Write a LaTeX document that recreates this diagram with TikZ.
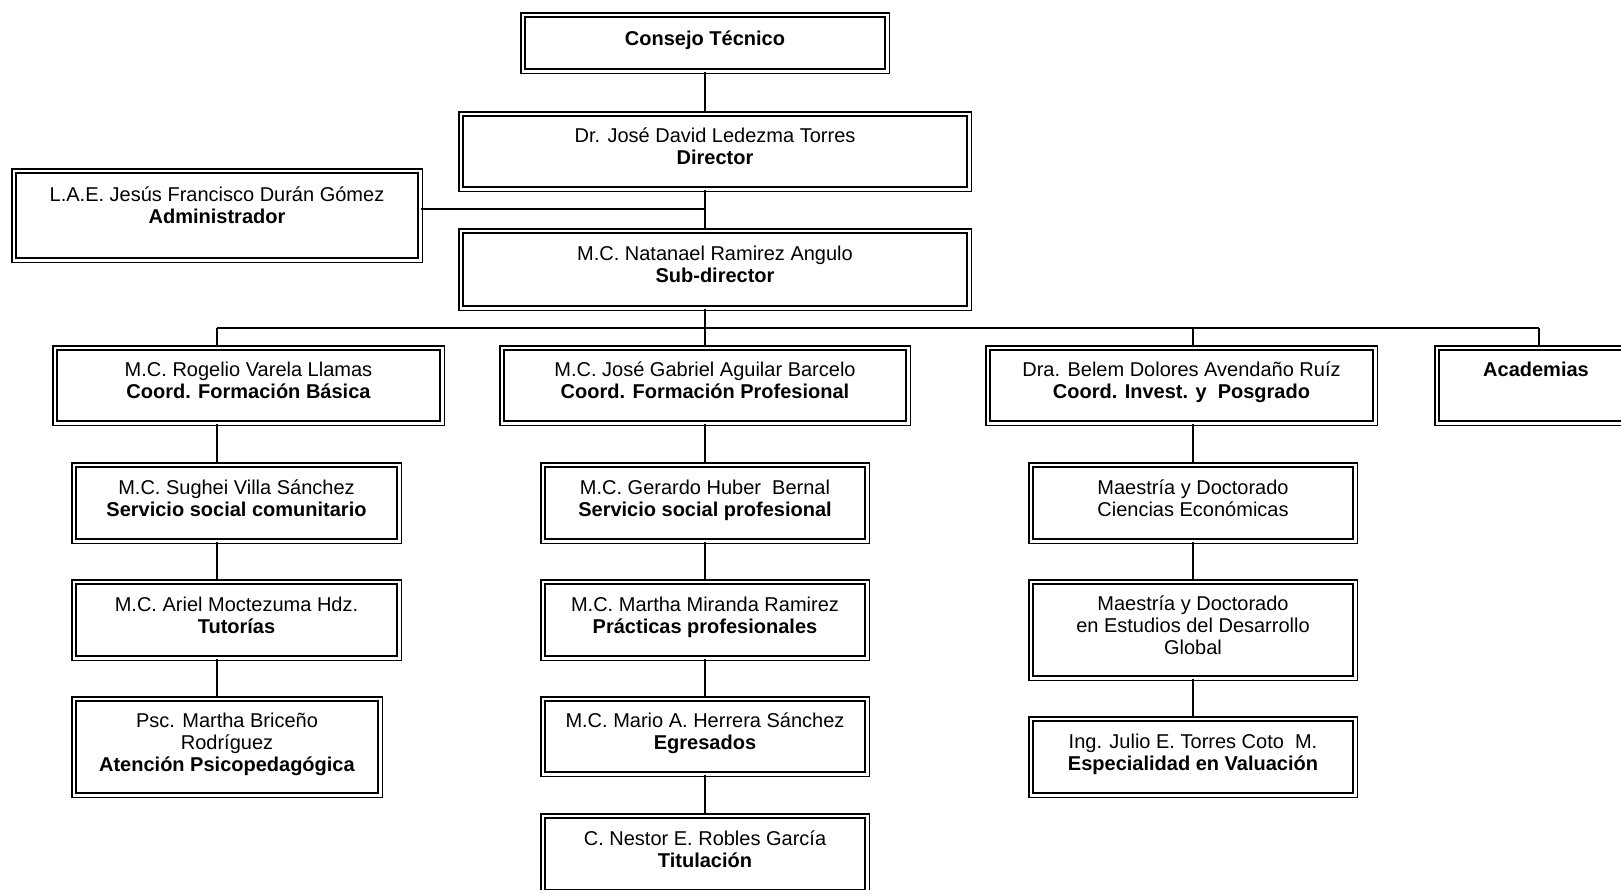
\documentclass[tikz,border=0pt]{standalone}
\usepackage{fontspec}
\setmainfont{Liberation Sans}
\tikzset{
  box/.style={draw, double, line width=0.75pt, double distance=1.3pt, align=center,
    inner sep=0pt, text depth=5pt, font=\fontsize{10}{11}\selectfont},
  boxsize/.style 2 args={minimum width=#1*0.5pt-2.8pt, minimum height=#2*0.5pt-2.8pt},
}
\begin{document}
\begin{tikzpicture}[x=0.5pt, y=-0.5pt, node distance=58.5pt, line width=0.9pt] % 1 unit = 1 px
  \useasboundingbox (0,0) rectangle (1621,889);
  \node[box, boxsize={370}{62}] (CT) at (705,43) {\textbf{Consejo Técnico}};
  \node[box, boxsize={514}{81}] (DIR) at (715,151.5) {Dr. José David Ledezma Torres\\\textbf{Director}};
  \node[box, boxsize={412}{95}, text depth=10pt] (ADM) at (217,215.5) {L.A.E. Jesús Francisco Durán Gómez\\\textbf{Administrador}};
  \node[box, boxsize={514}{83}] (SUB) at (715,269.5) {M.C. Natanael Ramirez Angulo\\\textbf{Sub-director}};

  \node[box, boxsize={393}{81}] (CFB) at (248.5,385.5) {M.C. Rogelio Varela Llamas\\\textbf{Coord. Formación Básica}};
  \node[box, boxsize={412}{81}] (CFP) at (705,385.5) {M.C. José Gabriel Aguilar Barcelo\\\textbf{Coord. Formación Profesional}};
  \node[box, boxsize={393}{81}] (CIP) at (1181.5,385.5) {Dra. Belem Dolores Avendaño Ruíz\\\textbf{Coord. Invest. y~ Posgrado}};
  \node[box, boxsize={204}{81}, text depth=16.5pt] (AC) at (1536,385.5) {\textbf{Academias}};

  \node[box, boxsize={331}{82}] (SSC) at (236.5,503) {M.C. Sughei Villa Sánchez\\\textbf{Servicio social comunitario}};
  \node[box, boxsize={331}{82}, below of=SSC] (TUT) {M.C. Ariel Moctezuma Hdz.\\\textbf{Tutorías}};
  \node[box, boxsize={312}{102}] (APS) at (227,747) {Psc. Martha Briceño\\Rodríguez\\\textbf{Atención Psicopedagógica}};

  \node[box, boxsize={330}{82}] (SSP) at (705,503) {M.C. Gerardo Huber~ Bernal\\\textbf{Servicio social profesional}};
  \node[box, boxsize={330}{82}, below of=SSP] (PP) {M.C. Martha Miranda Ramirez\\\textbf{Prácticas profesionales}};
  \node[box, boxsize={330}{81}] (EG) at (705,736.5) {M.C. Mario A. Herrera Sánchez\\\textbf{Egresados}};
  \node[box, boxsize={330}{82}] (TIT) at (705,854) {C. Nestor E. Robles García\\\textbf{Titulación}};

  \node[box, boxsize={330}{82}] (MCE) at (1193,503) {Maestría y Doctorado\\Ciencias Económicas};
  \node[box, boxsize={330}{102}] (MEDG) at (1193,630) {Maestría y Doctorado\\en Estudios del Desarrollo\\Global};
  \node[box, boxsize={330}{82}] (EV) at (1193,757) {Ing. Julio E. Torres Coto~ M.\\\textbf{Especialidad en Valuación}};

  \coordinate (colA) at (217,328);
  \coordinate (colB) at (705,328);
  \coordinate (colC) at (1193,328);
  \coordinate (colD) at (1539,328);
  \coordinate (adm) at (705,209);

  \draw[-] (CT.south) -- (CT.south |- DIR.north);
  \draw[-] (colB |- DIR.south) -- (colB |- SUB.north);
  \draw[-] (ADM.east |- adm) -- (adm);
  \draw[-] (colB |- SUB.south) -- (colB);
  \draw[-] (colA) -- (colD);
  \foreach \c/\n in {colA/CFB, colB/CFP, colC/CIP, colD/AC}
    \draw[-] (\c) -- (\c |- \n.north);

  \draw[-] (colA |- CFB.south) -- (colA |- SSC.north);
  \draw[-] (colA |- SSC.south) -- (colA |- TUT.north);
  \draw[-] (colA |- TUT.south) -- (colA |- APS.north);
  \draw[-] (colB |- CFP.south) -- (colB |- SSP.north);
  \draw[-] (colB |- SSP.south) -- (colB |- PP.north);
  \draw[-] (colB |- PP.south) -- (colB |- EG.north);
  \draw[-] (colB |- EG.south) -- (colB |- TIT.north);
  \draw[-] (colC |- CIP.south) -- (colC |- MCE.north);
  \draw[-] (colC |- MCE.south) -- (colC |- MEDG.north);
  \draw[-] (colC |- MEDG.south) -- (colC |- EV.north);
\end{tikzpicture}
\end{document}
